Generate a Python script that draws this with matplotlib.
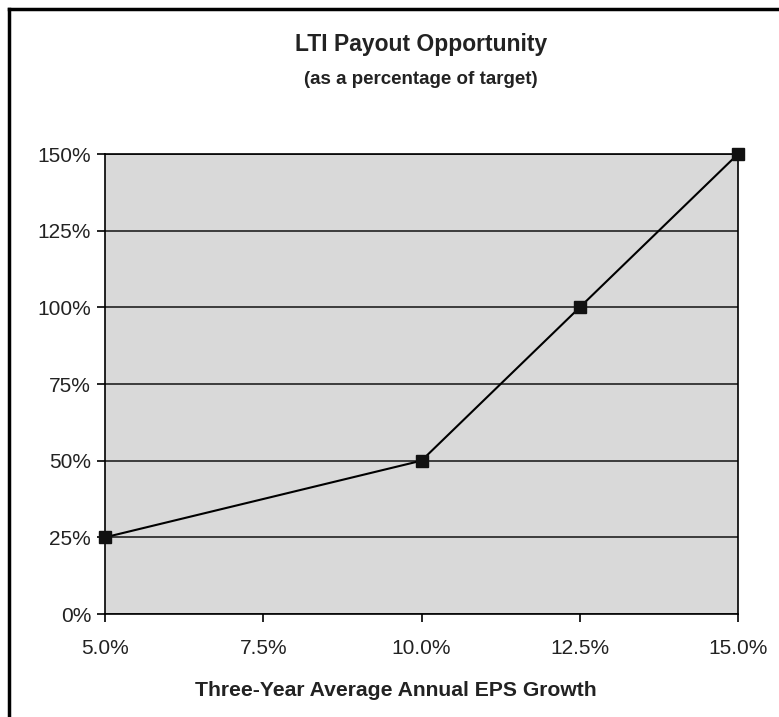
import matplotlib
matplotlib.use('Agg')
import matplotlib.pyplot as plt
from matplotlib.lines import Line2D
from matplotlib.ticker import FuncFormatter

# data
eps_growth = [5.0, 10.0, 12.5, 15.0]
payout_pct = [25, 50, 100, 150]
x_ticks = [5.0, 7.5, 10.0, 12.5, 15.0]
y_ticks = [0, 25, 50, 75, 100, 125, 150]

plt.rcParams['font.family'] = ['Liberation Sans', 'DejaVu Sans']

fig = plt.figure(figsize=(7.79, 7.17), dpi=100)
ax = fig.add_axes([105/779, 1 - 614/717, 633/779, 460/717])
ax.set_facecolor('#d9d9d9')

ax.plot(eps_growth, payout_pct, color='black', lw=1.5, marker='s',
        markersize=8, markerfacecolor='#111111', markeredgecolor='#111111',
        clip_on=False, zorder=3)

ax.set_xlim(5.0, 15.0)
ax.set_ylim(0, 150)
ax.set_xticks(x_ticks)
ax.set_yticks(y_ticks)
ax.xaxis.set_major_formatter(FuncFormatter(lambda v, p: f'{v:.1f}%'))
ax.yaxis.set_major_formatter(FuncFormatter(lambda v, p: f'{v:.0f}%'))
ax.tick_params(axis='both', labelsize=15, colors='black', length=6,
               width=1.2, direction='out', labelcolor='#222222')
ax.tick_params(axis='x', pad=12)
ax.tick_params(axis='y', pad=4)

ax.yaxis.grid(True, color='#222222', lw=1.2)
ax.set_axisbelow(True)
for s in ax.spines.values():
    s.set_color('black')
    s.set_linewidth(1.2)

fig.text(421/779, 1 - 45/717, 'LTI Payout Opportunity', ha='center',
         va='center', fontsize=16.5, fontweight='bold', color='#222222')
fig.text(421/779, 1 - 79/717, '(as a percentage of target)', ha='center',
         va='center', fontsize=13.5, fontweight='bold', color='#222222')
fig.text(396/779, 1 - 690/717, 'Three-Year Average Annual EPS Growth',
         ha='center', va='center', fontsize=15.2, fontweight='bold',
         color='#222222')

# outer frame (only top and left visible in the crop)
fig.add_artist(Line2D([9/779, 1.0], [1 - 9/717, 1 - 9/717], color='black',
                      lw=2.5, transform=fig.transFigure))
fig.add_artist(Line2D([9/779, 9/779], [0, 1 - 9/717], color='black',
                      lw=2.5, transform=fig.transFigure))

fig.savefig('out.png', dpi=100)
